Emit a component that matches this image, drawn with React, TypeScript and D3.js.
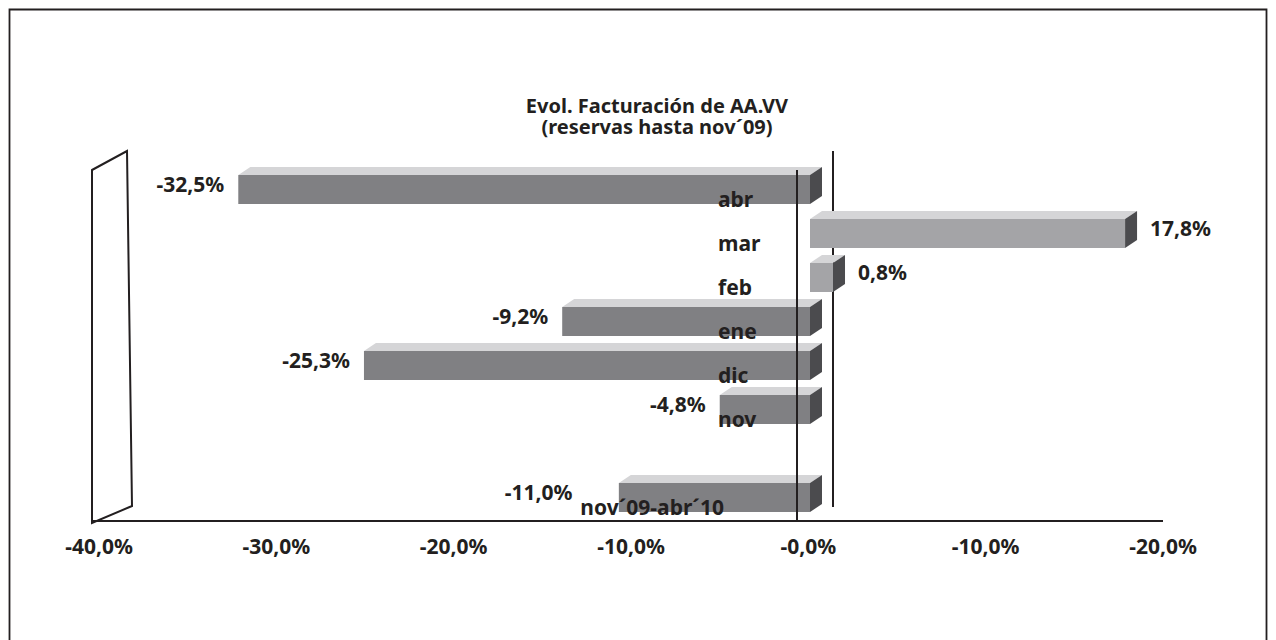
import * as d3 from "d3";

const categories = ["abr", "mar", "feb", "ene", "dic", "nov", "nov´09-abr´10"];
// bar lengths as drawn in the picture (%)
const values = [-32.3, 17.8, 1.3, -14.0, -25.2, -5.1, -10.8];
const valueLabels = ["-32,5%", "17,8%", "0,8%", "-9,2%", "-25,3%", "-4,8%", "-11,0%"];
const tickValues = [-40, -30, -20, -10, 0, 10, 20];
const tickLabels = ["-40,0%", "-30,0%", "-20,0%", "-10,0%", "-0,0%", "-10,0%", "-20,0%"];
const titleLines = ["Evol. Facturación de AA.VV", "(reservas hasta nov´09)"];

const W = 1276;
const H = 640;
const FONT = "'Noto Sans', 'Open Sans', sans-serif";
const FS = 21;
const INK = "#231f20";

export default function App() {
  const slots = [...categories.slice(0, 6), "_gap", categories[6]];
  const y = d3.scalePoint<string>().domain(slots).range([175, 483]);
  const xBar = d3.scaleLinear().domain([-40, 20]).range([102, 1164]);
  const xAxis = d3.scaleLinear().domain([-40, 20]).range([99, 1163]);
  const barH = 29;
  const dx = 12;
  const dy = 8;
  const axisY = 521;
  const zeroLineX = 797;
  const backLineX = 833;
  const x0 = xBar(0);
  const catX = 718;
  const catEndLong = 724;
  const charW = FS * 0.515;

  const catLeft = (c: string) => (c.length > 6 ? catEndLong - c.length * charW : catX);

  const wall = [
    [92, 170],
    [127, 151],
    [132, 506],
    [92, axisY + 2],
  ];

  return (
    <svg width={W} height={H} style={{ display: "block", position: "absolute", left: 0, top: 0 }} fontFamily={FONT}>
      <rect width={W} height={H} fill="#fff" />
      <path d={`M9.5,${H} V9.5 H1266.5 V${H}`} fill="none" stroke={INK} strokeWidth={1.8} />

      <text x={657} y={113} textAnchor="middle" fontSize={20} fontWeight={700} fill={INK}>
        {titleLines.map((t, i) => (
          <tspan key={i} x={657} dy={i === 0 ? 0 : 21}>
            {t}
          </tspan>
        ))}
      </text>

      <polygon points={wall.map((p) => p.join(",")).join(" ")} fill="none" stroke={INK} strokeWidth={2} />
      <line x1={backLineX} x2={backLineX} y1={151} y2={507} stroke={INK} strokeWidth={2} />

      {categories.map((c, i) => {
        const v = values[i];
        const top = y(c)!;
        const xl = Math.min(xBar(v), x0);
        const xr = Math.max(xBar(v), x0);
        const front = v < 0 ? "#808083" : "#a4a4a7";
        return (
          <g key={c}>
            <polygon
              points={`${xl},${top} ${xl + dx},${top - dy} ${xr + dx},${top - dy} ${xr},${top}`}
              fill="#d5d5d7"
            />
            <polygon
              points={`${xr},${top} ${xr + dx},${top - dy} ${xr + dx},${top + barH - dy} ${xr},${top + barH}`}
              fill="#4b4b4e"
            />
            <rect x={xl} y={top} width={xr - xl} height={barH} fill={front} />
          </g>
        );
      })}

      <line x1={zeroLineX} x2={zeroLineX} y1={170} y2={axisY} stroke={INK} strokeWidth={2} />
      <line x1={92} x2={1163} y1={axisY} y2={axisY} stroke={INK} strokeWidth={2} />

      {categories.map((c) => {
        const top = y(c)!;
        const long = c.length > 6;
        return (
          <text
            key={c}
            x={long ? catEndLong : catX}
            y={top + barH + 3}
            textAnchor={long ? "end" : "start"}
            fontSize={FS}
            fontWeight={700}
            fill={INK}
          >
            {c}
          </text>
        );
      })}

      {categories.map((c, i) => {
        const v = values[i];
        const top = y(c)!;
        const pos = v >= 0;
        const xNeg = Math.min(xBar(v) - 14, catLeft(c) - 11);
        return (
          <text
            key={c}
            x={pos ? xBar(v) + dx + 13 : xNeg}
            y={top + 17}
            textAnchor={pos ? "start" : "end"}
            fontSize={FS}
            fontWeight={700}
            fill={INK}
          >
            {valueLabels[i]}
          </text>
        );
      })}

      {tickValues.map((t, i) => (
        <text key={i} x={xAxis(t)} y={554} textAnchor="middle" fontSize={FS} fontWeight={700} fill={INK}>
          {tickLabels[i]}
        </text>
      ))}
    </svg>
  );
}
